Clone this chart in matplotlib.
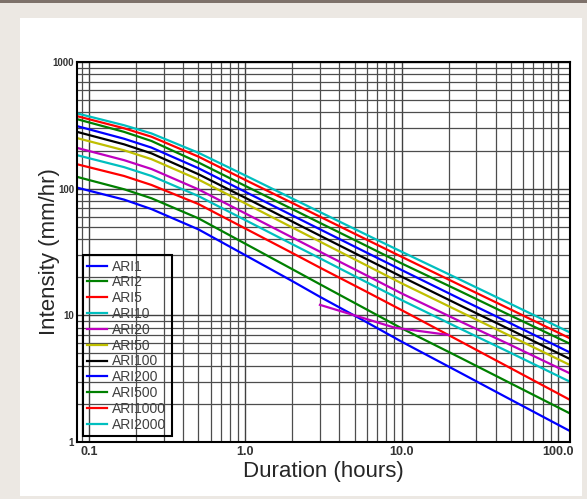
import matplotlib
matplotlib.use('Agg')
import matplotlib.pyplot as plt
from matplotlib.patches import Rectangle
from matplotlib.ticker import FixedLocator, FixedFormatter, NullFormatter

# durations (hours): 5 min ... 120 h
durations = [0.0833, 0.1667, 0.25, 0.5, 1, 2, 3, 6, 10, 24, 48, 120]

# intensity (mm/hr) for every ARI curve
ari1 = [102, 82, 69, 47.7, 29.8, 18.6, 14.0, 8.8, 6.2, 3.5, 2.22, 1.22]
ari2 = [124, 99, 84, 58.3, 36.7, 23.1, 17.6, 11.1, 7.9, 4.6, 2.98, 1.68]
ari5 = [156, 126, 107, 75.6, 48.4, 31.0, 23.8, 15.3, 11.0, 6.2, 3.93, 2.15]
ari10 = [184, 148, 126, 87.4, 56.4, 36.4, 28.2, 18.2, 13.2, 7.8, 5.18, 2.99]
ari20 = [210, 168, 143, 98.7, 63.7, 41.1, 31.8, 20.6, 14.9, 8.9, 5.97, 3.48]
ari50 = [251, 201, 171, 118, 76.4, 49.3, 38.2, 24.7, 17.9, 10.6, 7.02, 4.05]
ari100 = [281, 224, 190, 130, 84.6, 54.9, 42.6, 27.7, 20.2, 11.9, 7.87, 4.52]
ari200 = [312, 248, 211, 145, 94.3, 61.4, 47.8, 31.2, 22.8, 13.4, 8.85, 5.09]
ari500 = [354, 281, 238, 161, 105, 68.9, 53.7, 35.2, 25.7, 15.4, 10.2, 5.96]
ari1000 = [374, 300, 257, 179, 117, 77.0, 60.1, 39.5, 29.0, 17.2, 11.4, 6.58]
ari2000 = [393, 317, 273, 192, 127, 83.5, 65.4, 43.1, 31.8, 19.0, 12.6, 7.32]

# stray ARI20 piece that sits below the others between 3 h and 20 h
ari20_extra_dur = [3, 5, 9, 20]
ari20_extra = [12.1, 10.0, 8.0, 7.0]

labels = ['ARI1', 'ARI2', 'ARI5', 'ARI10', 'ARI20', 'ARI50', 'ARI100',
          'ARI200', 'ARI500', 'ARI1000', 'ARI2000']
series = [ari1, ari2, ari5, ari10, ari20, ari50, ari100, ari200, ari500,
          ari1000, ari2000]
colors = ['b', 'g', 'r', 'c', 'm', 'y', 'k', 'b', 'g', 'r', 'c']

xticks = [0.1, 1.0, 10.0, 100.0]
xticklabels = ['0.1', '1.0', '10.0', '100.0']
yticks = [1, 10, 100, 1000]
yticklabels = ['1', '10', '100', '1000']

plt.rcParams['font.family'] = ['Liberation Sans', 'DejaVu Sans']

fig = plt.figure(figsize=(5.87, 4.99), dpi=100)
fig.patch.set_facecolor('#ece8e3')
# white panel + dark strip on top
fig.patches.append(Rectangle((0.034, 0.006), 0.958, 0.958, transform=fig.transFigure,
                             facecolor='white', edgecolor='none', zorder=-5))
fig.patches.append(Rectangle((0, 1 - 3 / 499), 1, 3 / 499, transform=fig.transFigure,
                             facecolor='#7d716a', edgecolor='none', zorder=-5))

ax = fig.add_axes([0.1312, 0.1142, 0.8399, 0.7615])
ax.set_xscale('log')
ax.set_yscale('log')

for vals, lab, col in zip(series, labels, colors):
    ax.plot(durations, vals, color=col, lw=1.6, label=lab)
ax.plot(ari20_extra_dur, ari20_extra, color='m', lw=1.6)

ax.set_xlim(1 / 12, 120)
ax.set_ylim(1, 1000)

ax.xaxis.set_major_locator(FixedLocator(xticks))
ax.xaxis.set_major_formatter(FixedFormatter(xticklabels))
ax.xaxis.set_minor_formatter(NullFormatter())
ax.yaxis.set_major_locator(FixedLocator(yticks))
ax.yaxis.set_major_formatter(FixedFormatter(yticklabels))
ax.yaxis.set_minor_formatter(NullFormatter())

ax.grid(True, which='major', color='0.25', lw=1.0)
ax.grid(True, which='minor', color='0.3', lw=0.9)
ax.set_axisbelow(True)

ax.tick_params(which='both', length=0)
ax.tick_params(axis='x', labelsize=9, pad=3)
ax.tick_params(axis='y', labelsize=7, pad=2)
for t in ax.get_xticklabels() + ax.get_yticklabels():
    t.set_fontweight('bold')
    t.set_color('0.2')

for sp in ax.spines.values():
    sp.set_linewidth(1.5)
    sp.set_color('black')

ax.set_xlabel('Duration (hours)', fontsize=16, labelpad=2, color='0.15')
ax.set_ylabel('Intensity (mm/hr)', fontsize=16, labelpad=-5, color='0.15')

leg = ax.legend(loc='lower left', fontsize=10, fancybox=False, framealpha=1,
                labelspacing=0.13, handlelength=1.4, handletextpad=0.4,
                borderpad=0.35, borderaxespad=0.4, labelcolor='0.25')
leg.get_frame().set_facecolor('none')
leg.get_frame().set_edgecolor('black')
leg.get_frame().set_linewidth(1.5)

plt.savefig('out.png', dpi=100, facecolor=fig.get_facecolor())
